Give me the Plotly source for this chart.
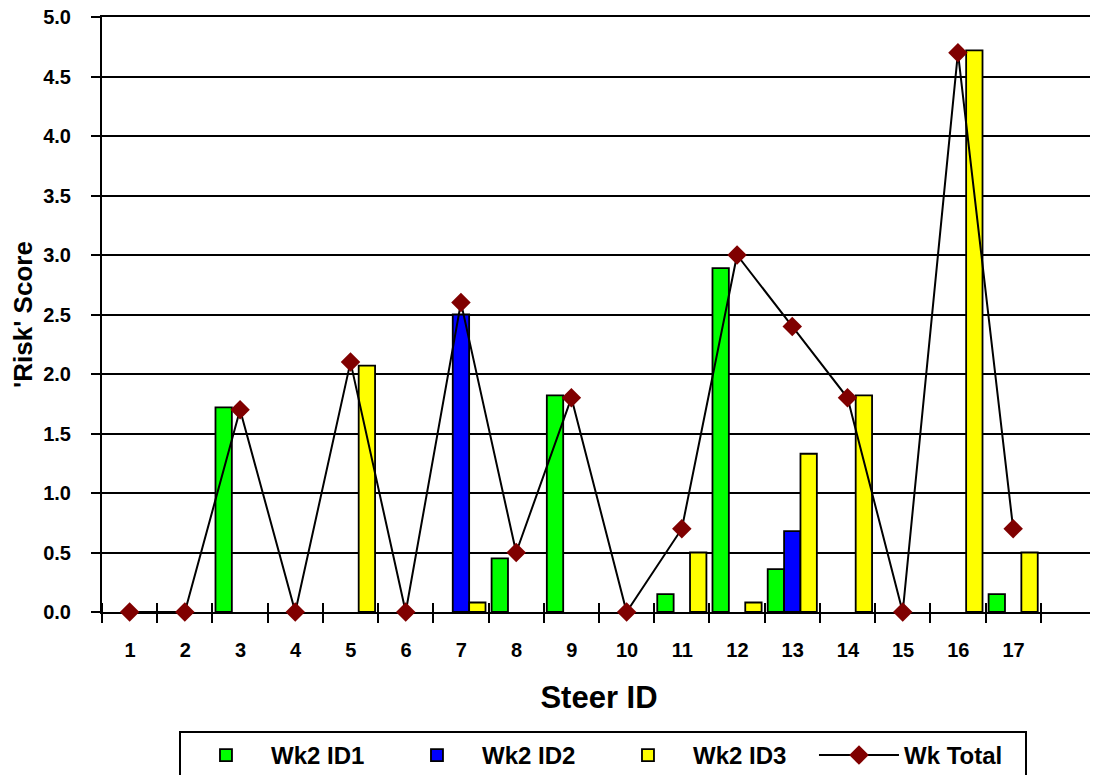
import plotly.graph_objects as go

steer_ids = list(range(1, 18))
tick_labels = [str(i) for i in steer_ids]

wk2_id1 = [None, None, 1.72, None, None, None, None, 0.45, 1.82, None, 0.15, 2.89, 0.36, None, None, None, 0.15]
wk2_id2 = [None, None, None, None, None, None, 2.50, None, None, None, None, None, 0.68, None, None, None, None]
wk2_id3 = [None, None, None, None, 2.07, None, 0.08, None, None, None, 0.50, 0.08, 1.33, 1.82, None, 4.72, 0.50]
wk_total = [0, 0, 1.7, 0, 2.1, 0, 2.6, 0.5, 1.8, 0, 0.7, 3.0, 2.4, 1.8, 0, 4.7, 0.7]

FONT = "Arial, Liberation Sans, sans-serif"
boundaries = [i + 0.5 for i in range(0, 18)]
minor_vals = [b + 1e-4 for b in boundaries]
xrange = [0.5, 18.5]

W, H = 1090, 767
ML, MR, MT, MB = 94, 2, 9, 163
half_cat_px = int(round((W - ML - MR) / (xrange[1] - xrange[0]) / 2))

fig = go.Figure()
for name, vals, col in [("Wk2 ID1", wk2_id1, "#00FF00"),
                        ("Wk2 ID2", wk2_id2, "#0000FF"),
                        ("Wk2 ID3", wk2_id3, "#FFFF00")]:
    fig.add_trace(go.Bar(x=steer_ids, y=vals, name=name,
                         marker=dict(color=col, line=dict(color="black", width=1.8))))

fig.add_trace(go.Scatter(x=steer_ids, y=wk_total, name="Wk Total",
                         mode="lines+markers", cliponaxis=False,
                         line=dict(color="black", width=2),
                         marker=dict(symbol="diamond", size=15, color="#800000")))

fig.update_layout(
    width=W, height=H,
    margin=dict(l=ML, r=MR, t=MT, b=MB, autoexpand=False),
    paper_bgcolor="white", plot_bgcolor="white",
    barmode="group", bargap=0.11, bargroupgap=0,
    font=dict(family=FONT, color="black"),
    showlegend=True,
    legend=dict(orientation="h", x=0.504, xanchor="center", y=-0.2, yanchor="top",
                font=dict(family=FONT, size=24, weight="bold", color="black"),
                bordercolor="black", borderwidth=2, itemwidth=80, entrywidth=116,
                traceorder="normal"),
    xaxis=dict(range=xrange, tickmode="array", tickvals=boundaries,
               ticktext=tick_labels + [""], ticklabelshift=half_cat_px,
               ticks="outside", ticklen=9, tickwidth=2, tickcolor="black",
               showgrid=False, zeroline=False, automargin=False,
               showline=True, linecolor="black", linewidth=2, mirror=True,
               layer="below traces", ticklabeloverflow="allow",
               tickfont=dict(family=FONT, size=20, weight="bold", color="black"),
               ticklabelstandoff=10,
               minor=dict(tickmode="array", tickvals=minor_vals, ticks="inside",
                          ticklen=9, tickwidth=2, tickcolor="black", showgrid=False),
               title=dict(text="Steer ID", standoff=26,
                          font=dict(family=FONT, size=31, weight="bold", color="black"))),
    yaxis=dict(range=[0, 5], tickmode="linear", tick0=0, dtick=0.5, tickformat=".1f",
               showgrid=True, gridcolor="black", gridwidth=2, zeroline=False,
               showline=True, linecolor="black", linewidth=2, mirror=True,
               ticks="outside", ticklen=9, tickwidth=2, tickcolor="black",
               layer="below traces", ticklabelstandoff=16, automargin=False,
               ticklabeloverflow="allow",
               tickfont=dict(family=FONT, size=20, weight="bold", color="black"),
               title=dict(text="'Risk' Score", standoff=10,
                          font=dict(family=FONT, size=26, weight="bold", color="black"))),
)

fig.write_html("out.html")
